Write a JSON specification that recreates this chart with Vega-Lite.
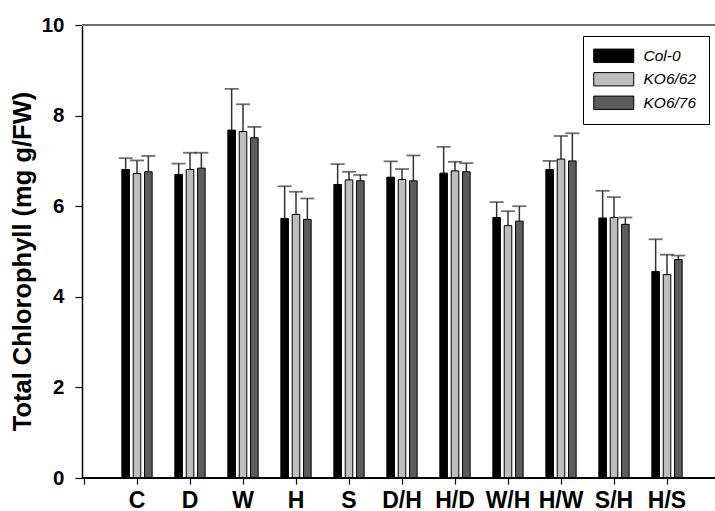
{
  "$schema": "https://vega.github.io/schema/vega-lite/v6.json",
  "width": 633,
  "height": 453,
  "autosize": {"type": "none"},
  "padding": {"left": 82, "top": 25, "right": 0, "bottom": 33},
  "config": {
    "view": {"stroke": null},
    "font": "Liberation Sans"
  },
  "data": {
    "values": [
      {"cond": "C", "line": "Col-0", "mean": 6.81, "upper": 7.06},
      {"cond": "C", "line": "KO6/62", "mean": 6.72, "upper": 7.01},
      {"cond": "C", "line": "KO6/76", "mean": 6.76, "upper": 7.11},
      {"cond": "D", "line": "Col-0", "mean": 6.70, "upper": 6.94},
      {"cond": "D", "line": "KO6/62", "mean": 6.81, "upper": 7.18},
      {"cond": "D", "line": "KO6/76", "mean": 6.84, "upper": 7.18},
      {"cond": "W", "line": "Col-0", "mean": 7.68, "upper": 8.59},
      {"cond": "W", "line": "KO6/62", "mean": 7.65, "upper": 8.25},
      {"cond": "W", "line": "KO6/76", "mean": 7.51, "upper": 7.75},
      {"cond": "H", "line": "Col-0", "mean": 5.73, "upper": 6.44},
      {"cond": "H", "line": "KO6/62", "mean": 5.82, "upper": 6.32},
      {"cond": "H", "line": "KO6/76", "mean": 5.71, "upper": 6.17},
      {"cond": "S", "line": "Col-0", "mean": 6.48, "upper": 6.93},
      {"cond": "S", "line": "KO6/62", "mean": 6.58, "upper": 6.76},
      {"cond": "S", "line": "KO6/76", "mean": 6.56, "upper": 6.69},
      {"cond": "D/H", "line": "Col-0", "mean": 6.64, "upper": 6.99},
      {"cond": "D/H", "line": "KO6/62", "mean": 6.59, "upper": 6.82},
      {"cond": "D/H", "line": "KO6/76", "mean": 6.56, "upper": 7.12},
      {"cond": "H/D", "line": "Col-0", "mean": 6.73, "upper": 7.31},
      {"cond": "H/D", "line": "KO6/62", "mean": 6.78, "upper": 6.98},
      {"cond": "H/D", "line": "KO6/76", "mean": 6.76, "upper": 6.95},
      {"cond": "W/H", "line": "Col-0", "mean": 5.75, "upper": 6.09},
      {"cond": "W/H", "line": "KO6/62", "mean": 5.57, "upper": 5.89},
      {"cond": "W/H", "line": "KO6/76", "mean": 5.67, "upper": 6.00},
      {"cond": "H/W", "line": "Col-0", "mean": 6.81, "upper": 7.00},
      {"cond": "H/W", "line": "KO6/62", "mean": 7.04, "upper": 7.55},
      {"cond": "H/W", "line": "KO6/76", "mean": 7.00, "upper": 7.61},
      {"cond": "S/H", "line": "Col-0", "mean": 5.74, "upper": 6.34},
      {"cond": "S/H", "line": "KO6/62", "mean": 5.75, "upper": 6.20},
      {"cond": "S/H", "line": "KO6/76", "mean": 5.60, "upper": 5.75},
      {"cond": "H/S", "line": "Col-0", "mean": 4.56, "upper": 5.27},
      {"cond": "H/S", "line": "KO6/62", "mean": 4.49, "upper": 4.93},
      {"cond": "H/S", "line": "KO6/76", "mean": 4.82, "upper": 4.91}
    ]
  },
  "layer": [
    {
      "encoding": {
        "x": {
          "field": "cond",
          "type": "nominal",
          "scale": {
            "domain": [" ", "C", "D", "W", "H", "S", "D/H", "H/D", "W/H", "H/W", "S/H", "H/S"],
            "range": [-24.5, 611.5],
            "paddingInner": 0,
            "paddingOuter": 0
          },
          "axis": {
            "title": null,
            "domain": false,
            "labelAngle": 0,
            "labelFontSize": 23,
            "labelFontWeight": "bold",
            "labelColor": "black",
            "labelPadding": 5,
            "tickColor": "black",
            "tickSize": 6,
            "tickWidth": 1.2
          }
        },
        "xOffset": {
          "field": "line",
          "type": "nominal",
          "scale": {"paddingInner": 0.333, "paddingOuter": 1.19}
        }
      },
      "layer": [
        {
          "mark": {"type": "rule", "color": "#333333", "strokeWidth": 1.5},
          "encoding": {
            "y": {"field": "mean", "type": "quantitative"},
            "y2": {"field": "upper"}
          }
        },
        {
          "mark": {"type": "tick", "color": "#333333", "thickness": 1.8, "size": 14},
          "encoding": {
            "y": {"field": "upper", "type": "quantitative"}
          }
        },
        {
          "mark": {"type": "bar", "stroke": "black", "strokeWidth": 1},
          "encoding": {
            "y": {
              "field": "mean",
              "type": "quantitative",
              "scale": {"domain": [0, 10], "nice": false},
              "axis": {
                "title": "Total Chlorophyll (mg g/FW)",
                "titleFontSize": 25.5,
                "titleFontWeight": "bold",
                "titleColor": "black",
                "titlePadding": 6,
                "titleY": 236,
                "values": [0, 2, 4, 6, 8, 10],
                "grid": false,
                "domainColor": "black",
                "domainWidth": 1.5,
                "tickColor": "black",
                "tickSize": 7,
                "tickWidth": 1.2,
                "labelFontSize": 20.5,
                "labelFontWeight": "bold",
                "labelColor": "black",
                "labelPadding": 11
              }
            },
            "color": {
              "field": "line",
              "type": "nominal",
              "scale": {"domain": ["Col-0", "KO6/62", "KO6/76"], "range": ["#000000", "#bdbdbd", "#5c5c5c"]},
              "legend": {
                "orient": "none",
                "legendX": 501,
                "legendY": 11,
                "title": null,
                "symbolType": "M-3,-1H3V1H-3Z",
                "symbolSize": 178,
                "symbolStrokeColor": "black",
                "symbolStrokeWidth": 1,
                "symbolOpacity": 1,
                "labelFontSize": 15.5,
                "labelFontStyle": "italic",
                "labelColor": "black",
                "labelOffset": 22,
                "symbolOffset": 11,
                "padding": 12,
                "rowPadding": 5.5,
                "strokeColor": "black",
                "fillColor": "white"
              }
            }
          }
        }
      ]
    },
    {
      "mark": {"type": "rule", "color": "black", "strokeWidth": 1.5},
      "encoding": {"y": {"datum": 0, "type": "quantitative"}}
    },
    {
      "mark": {"type": "rule", "color": "#6e6e6e", "strokeWidth": 2},
      "encoding": {"y": {"datum": 10, "type": "quantitative"}}
    }
  ]
}
